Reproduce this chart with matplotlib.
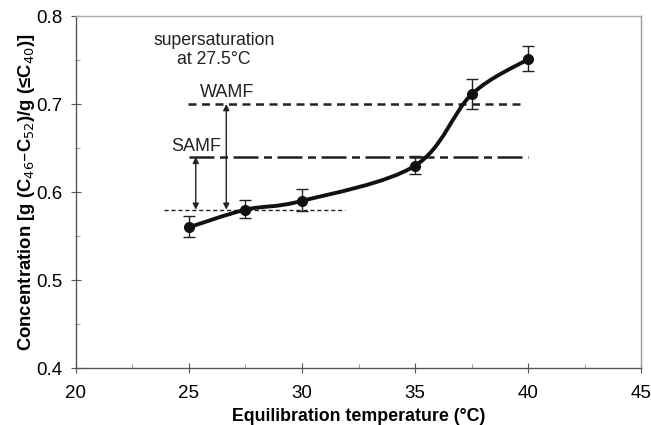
import numpy as np
import matplotlib
matplotlib.use("Agg")
import matplotlib.pyplot as plt
from matplotlib.path import Path
from matplotlib.patches import PathPatch

plt.rcParams['font.family'] = ['Liberation Sans', 'DejaVu Sans']

# measured concentrations
temp = [25, 27.5, 30, 35, 37.5, 40]
conc = [0.56, 0.58, 0.59, 0.63, 0.711, 0.751]
err_lo = [0.011, 0.009, 0.011, 0.009, 0.017, 0.013]
err_hi = [0.013, 0.011, 0.013, 0.011, 0.018, 0.015]

wamf_level = 0.70
samf_level = 0.64
super_level = 0.58

fig = plt.figure(figsize=(6.51, 4.25), dpi=100)
ax = fig.add_axes([0.1167, 0.134, 0.868, 0.828])

# smooth curve (Catmull-Rom -> bezier), like an Excel smoothed line
pts = np.array([temp, conc]).T
verts = [pts[0]]
codes = [Path.MOVETO]
for i in range(len(pts) - 1):
    p0 = pts[i - 1] if i > 0 else pts[i]
    p1 = pts[i]
    p2 = pts[i + 1]
    p3 = pts[i + 2] if i + 2 < len(pts) else pts[i + 1]
    c1 = p1 + (p2 - p0) / 6.0
    c2 = p2 - (p3 - p1) / 6.0
    verts += [c1, c2, p2]
    codes += [Path.CURVE4] * 3
ax.add_patch(PathPatch(Path(verts, codes), facecolor='none', edgecolor='#111111', lw=2.8, zorder=3))

ax.errorbar(temp, conc, yerr=[err_lo, err_hi], fmt='o', color='#111111', ms=7,
            ecolor='#222222', elinewidth=1.0, capsize=4, capthick=1.0, zorder=4)

# reference levels
ax.plot([24.95, 39.7], [wamf_level, wamf_level], color='#222222', lw=1.8, dashes=(3.2, 2.2))
ax.plot([25.0, 40.0], [samf_level, samf_level], color='#222222', lw=1.8, dashes=(10, 2.2, 3.2, 2.2))
ax.plot([23.9, 31.9], [super_level, super_level], color='#222222', lw=1.0, dashes=(3, 2))

arrow_kw = dict(arrowstyle='<|-|>', color='#222222', lw=1.0, mutation_scale=9, shrinkA=0, shrinkB=0)
ax.annotate('', xy=(25.3, samf_level), xytext=(25.3, super_level), arrowprops=arrow_kw)
ax.annotate('', xy=(26.65, wamf_level), xytext=(26.65, super_level), arrowprops=arrow_kw)

ax.text(26.7, 0.7135, 'WAMF', fontsize=13, ha='center', va='center', color='#222222')
ax.text(25.3, 0.652, 'SAMF', fontsize=13, ha='center', va='center', color='#222222')
ax.text(26.1, 0.782, 'supersaturation\nat 27.5\u00b0C', fontsize=12.7, ha='center', va='top',
        color='#222222', linespacing=1.15)

ax.set_xlim(20, 45)
ax.set_ylim(0.4, 0.8)
ax.set_xticks([20, 25, 30, 35, 40, 45])
ax.set_xticks([22.5, 27.5, 32.5, 37.5, 42.5], minor=True)
ax.set_yticks([0.4, 0.5, 0.6, 0.7, 0.8])
ax.set_yticks([0.45, 0.55, 0.65, 0.75], minor=True)
ax.set_yticklabels(['0.4', '0.5', '0.6', '0.7', '0.8'])
ax.tick_params(which='major', direction='inout', length=7, width=0.8, labelsize=13.5, color='#555555')
ax.tick_params(which='minor', direction='in', length=3, width=0.6, color='#888888')
ax.tick_params(axis='x', pad=9)
ax.tick_params(axis='y', pad=6)

for s in ax.spines.values():
    s.set_color('#555555')
    s.set_linewidth(1.0)
ax.spines['top'].set_color('#aaaaaa')
ax.spines['right'].set_color('#999999')

ax.set_xlabel('Equilibration temperature (\u00b0C)', fontsize=12.8, fontweight='bold', labelpad=4)
ax.set_ylabel('Concentration [g (C$_{46}$\u2013C$_{52}$)/g (\u2264C$_{40}$)]', fontsize=13.3,
              fontweight='bold', labelpad=0)

fig.savefig('out.png', dpi=100)
